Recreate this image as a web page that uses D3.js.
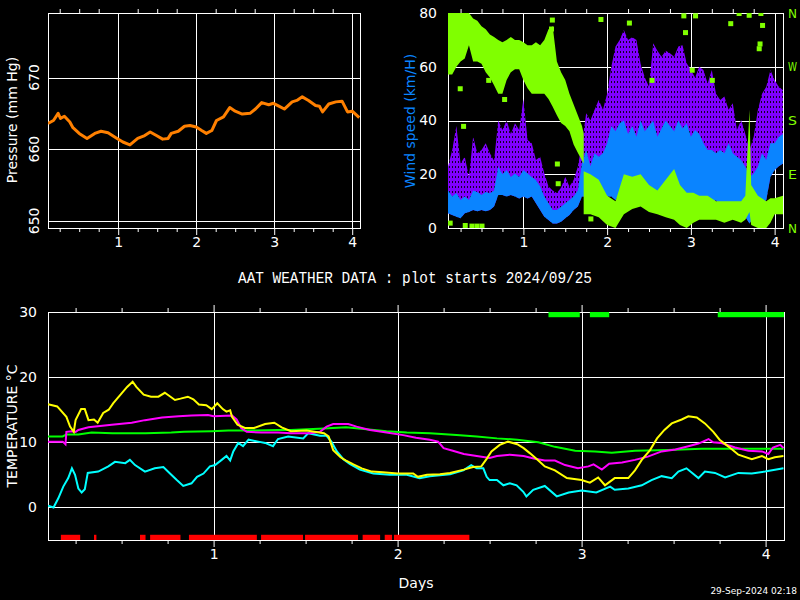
<!DOCTYPE html>
<html>
<head>
<meta charset="utf-8">
<script src="https://cdn.jsdelivr.net/npm/d3@7"></script>
<style>
body { margin: 0; background: #000; }
</style>
</head>
<body>
<svg id="canvas" width="800" height="600" font-family="DejaVu Sans, sans-serif"></svg>
<script>

const dayTicks = [1, 2, 3, 4]
const minorDays = [0.25, 0.5, 0.75, 1.25, 1.5, 1.75, 2.25, 2.5, 2.75, 3.25, 3.5, 3.75]
const pressTicks = [650, 660, 670]
const windTicks = [0, 20, 40, 60, 80]
const compassDeg = [0, 90, 180, 270, 360]
const compassLabels = ['N', 'E', 'S', 'W', 'N']
const tempTicks = [0, 10, 20, 30]

const pressDays = [0.10,0.17,0.23,0.26,0.31,0.38,0.42,0.50,0.60,0.70,0.78,0.87,0.97,1.06,1.15,1.25,1.34,1.41,1.49,1.57,1.64,1.68,1.77,1.85,1.92,2.00,2.07,2.13,2.20,2.26,2.35,2.43,2.50,2.59,2.69,2.76,2.84,2.93,2.99,3.06,3.13,3.23,3.29,3.36,3.44,3.53,3.58,3.62,3.70,3.79,3.87,3.94,4.00,4.09]
const pressure = [663.6,664.0,665.0,664.3,664.6,663.8,663.0,662.2,661.5,662.2,662.5,662.3,661.6,661.0,660.6,661.5,661.9,662.4,661.9,661.4,661.5,662.2,662.5,663.2,663.3,663.1,662.6,662.2,662.6,664.0,664.5,665.8,665.3,664.9,665.0,665.6,666.5,666.2,666.4,666.0,665.6,666.6,666.8,667.3,666.8,666.1,666.0,665.2,666.3,666.6,666.7,665.2,665.3,664.4]

const windDays = [0.10,0.15,0.20,0.25,0.30,0.35,0.40,0.45,0.50,0.55,0.60,0.65,0.70,0.75,0.80,0.85,0.90,0.95,1.00,1.05,1.10,1.15,1.20,1.25,1.30,1.35,1.40,1.45,1.50,1.55,1.60,1.65,1.70,1.75,1.80,1.85,1.90,1.95,2.00,2.05,2.10,2.15,2.20,2.25,2.30,2.35,2.40,2.45,2.50,2.55,2.60,2.65,2.70,2.75,2.80,2.85,2.90,2.95,3.00,3.05,3.10,3.15,3.20,3.25,3.30,3.35,3.40,3.45,3.50,3.55,3.60,3.65,3.70,3.75,3.80,3.85,3.90,3.95,4.00,4.05,4.10]
const gustSpeed = [22.8,29,38,24,26.5,19,34,27.8,29,31.5,27.8,25,40,36.5,40,35,39,36.5,48,32.7,31.5,25.3,26.5,20.3,15.4,14,13,15,19,15.4,17.9,22.8,31.5,42.7,40,44,47.6,44,50,60,67.5,70,73.7,70,71,70,61,56,52.6,68.7,66,63.7,66,65,63.7,67.5,68,61.3,58.8,56,60,58.8,53.8,58.8,50,47.6,48.9,44,46.4,36.5,40.2,35,29,34,44,50,52.6,58.8,55,52.6,51.3]
const windHigh = [14,11.7,13,10.4,11.7,10.4,14,13.4,12.3,13.4,12.9,14,22.8,20,21.6,19,20.3,19,21.6,20.3,19,17.9,15.4,11.7,9.2,6.7,6.7,7.9,9.2,10.4,11.7,14,24,29,23,27.8,26.5,27.8,31.5,38,36,39,40,35,38,34,40,36,38,40,34,37,40,38,36,40,37,39,34,36.5,35,31.5,29,29,27.8,29,27.8,31.5,27.8,26.5,25.3,22.8,19,20.3,22.8,27.8,25.3,31.5,31.5,34,35]
const windLow = [5.5,4.8,4.2,3.6,5.5,6,6.7,6.2,6.7,6.2,6.7,8,12.3,12.3,11.7,12.3,11.7,11,11.7,11,11.7,9.2,6.7,4.2,3,1.7,1.7,2.3,3.6,4.8,6.7,8,11.7,11.7,9.2,11.7,11.7,10.4,11.7,11.7,10.4,13,16.6,14,11.7,10.4,11.7,14,15.4,11.7,13,11.7,9.2,10.4,14,14,11.7,10.4,10.4,9.2,11.7,9.2,10.4,9.2,10.4,8,8,6.7,9.2,6.7,5.5,4.2,1.7,4.2,6.7,9.2,10.4,19,21.6,23,24]

const dirDaysA = [0.10,0.15,0.20,0.25,0.30,0.35,0.40,0.45,0.50,0.55,0.60,0.65,0.70,0.75,0.80,0.85,0.90,0.95,1.00,1.05,1.10,1.15,1.20,1.25,1.30,1.35,1.40,1.45,1.50,1.55,1.60,1.65,1.70,1.72]
const dirLowA = [257,257,270,279,284,306,279,279,275,261,252,239,225,225,248,261,266,266,248,234,225,225,225,225,216,203,189,176,171,162,140,126,113,108]
const dirHighA = [360,360,360,360,360,360,351,347,338,333,324,320,315,311,315,320,315,315,311,306,306,311,306,315,333,338,279,261,248,225,207,189,171,158]
const dirDaysB = [1.72,1.80,1.90,2.00,2.10,2.20,2.30,2.40,2.50,2.60,2.70,2.80,2.87,2.95,3.03,3.10,3.20,3.30,3.40,3.50,3.60,3.65,3.70,3.72,3.80,3.90,3.95,4.00,4.10]
const dirLowB = [23,23,18,5,0,23,32,36,27,23,18,14,5,0,9,14,14,14,9,14,9,14,27,5,0,0,9,23,23]
const dirHighB = [95,90,81,54,45,90,86,90,72,63,81,99,72,59,59,54,54,45,45,45,45,54,198,72,54,45,50,50,54]
const dirSpotDays = [0.12,0.24,0.28,0.30,0.38,0.44,0.50,0.58,0.77,1.33,1.34,1.39,1.40,1.41,1.80,1.92,2.26,2.53,2.69,2.91,2.93,3.01,3.05,3.25,3.47,3.57,3.69,3.81,3.82,3.83,3.85]
const dirSpots = [9,234,171,5,4,4,4,248,216,334,349,242,108,75,16,350,344,248,30,356,328,265,356,248,343,360,357,301,309,360,340]

const airDays = [0.10,0.15,0.20,0.22,0.24,0.25,0.28,0.30,0.32,0.35,0.37,0.40,0.43,0.455,0.50,0.53,0.56,0.58,0.62,0.66,0.70,0.735,0.76,0.79,0.82,0.86,0.89,0.92,0.96,0.99,1.02,1.05,1.07,1.09,1.10,1.13,1.17,1.22,1.28,1.33,1.37,1.42,1.505,1.60,1.625,1.65,1.69,1.72,1.76,1.805,1.86,1.92,2.00,2.085,2.11,2.16,2.23,2.285,2.36,2.41,2.455,2.485,2.51,2.555,2.60,2.65,2.685,2.72,2.765,2.80,2.855,2.92,3.00,3.045,3.09,3.127,3.18,3.254,3.29,3.327,3.372,3.41,3.45,3.49,3.544,3.58,3.626,3.67,3.716,3.75,3.80,3.852,3.925,3.98,4.015,4.05,4.097]
const airTemp = [15.85,15.5,13.9,12.4,11.6,13.4,15.1,15.1,13.4,13.5,13.0,14.5,15.0,16.0,17.5,18.5,19.3,18.5,17.3,17.0,17.0,17.6,17.1,16.5,16.7,17.0,16.6,15.8,15.7,15.1,16.0,15.1,14.7,14.9,13.9,12.7,12.2,12.2,12.8,13.0,12.3,11.7,11.8,11.4,10.9,8.8,7.7,7.2,6.6,6.0,5.5,5.4,5.2,5.2,4.7,5.0,5.1,5.3,5.8,6.2,6.3,7.5,8.6,9.6,10.1,9.7,9.1,8.3,7.2,6.3,5.7,4.5,4.2,3.8,4.6,3.4,4.5,4.5,5.7,7.3,8.8,10.6,11.9,12.9,13.5,14.0,13.8,12.9,11.6,10.4,9.3,8.1,7.4,7.9,7.4,7.7,7.9]

const domeDays = [0.10,0.18,0.195,0.20,0.23,0.25,0.265,0.32,0.446,0.555,0.627,0.72,0.81,0.88,0.97,1.00,1.10,1.125,1.15,1.18,1.26,1.35,1.42,1.525,1.578,1.614,1.65,1.732,1.777,1.85,1.94,2.03,2.10,2.175,2.22,2.25,2.30,2.36,2.43,2.50,2.54,2.61,2.685,2.74,2.80,2.855,2.91,2.98,3.037,3.065,3.11,3.15,3.22,3.29,3.36,3.435,3.51,3.58,3.635,3.69,3.715,3.76,3.834,3.906,3.98,4.015,4.04,4.08,4.097]
const domeTemp = [10.1,10.1,9.7,11.6,11.7,11.6,11.9,12.3,12.7,13.0,13.4,13.8,14.0,14.1,14.2,14.0,14.1,13.5,12.2,11.6,11.5,11.5,11.4,11.4,11.6,12.4,12.8,12.8,12.4,11.9,11.5,11.1,10.7,10.4,10.1,9.1,8.7,8.2,7.9,7.6,7.9,8.1,7.9,7.5,7.2,7.2,6.5,6.0,6.3,6.6,5.8,6.7,6.9,7.3,7.8,8.6,8.9,9.4,9.8,10.5,10.0,9.9,9.2,8.7,8.6,8.2,9.2,9.6,9.1]

const mirrorDays = [0.10,0.18,0.20,0.265,0.337,0.45,0.63,0.77,0.84,0.99,1.08,1.17,1.35,1.42,1.60,1.72,1.83,1.94,2.05,2.175,2.32,2.43,2.54,2.65,2.765,2.855,2.965,3.073,3.164,3.29,3.47,3.653,3.83,4.097]
const mirrorTemp = [10.9,10.9,11.2,11.2,11.5,11.4,11.4,11.5,11.6,11.7,11.8,11.8,11.9,11.9,12.1,12.3,12.0,11.7,11.5,11.4,11.1,10.9,10.6,10.4,10.0,9.3,8.7,8.6,8.4,8.7,8.8,9.0,9.0,9.0]

const dewDays = [0.10,0.13,0.156,0.183,0.21,0.23,0.247,0.265,0.283,0.30,0.316,0.373,0.428,0.464,0.52,0.545,0.573,0.627,0.68,0.727,0.763,0.80,0.835,0.88,0.91,0.945,0.98,1.008,1.044,1.07,1.09,1.107,1.134,1.16,1.19,1.243,1.28,1.323,1.35,1.405,1.487,1.515,1.578,1.614,1.64,1.67,1.705,1.74,1.795,1.868,1.958,2.05,2.12,2.175,2.285,2.357,2.40,2.43,2.466,2.484,2.50,2.54,2.575,2.61,2.647,2.683,2.70,2.737,2.80,2.865,2.93,3.00,3.08,3.155,3.18,3.254,3.327,3.38,3.435,3.49,3.526,3.57,3.635,3.67,3.725,3.78,3.852,3.925,3.997,4.097]
const dewPoint = [0.26,0.0,1.4,3.2,4.5,6.0,5.0,2.9,2.3,2.8,5.3,5.5,6.3,7.0,6.8,7.3,6.5,5.5,6.0,6.2,5.2,4.2,3.3,3.7,4.7,5.2,6.3,6.5,7.3,7.9,7.2,8.6,9.9,9.4,10.4,10.1,9.9,9.4,10.5,10.9,10.6,11.4,11.0,11.0,10.1,8.6,7.4,6.7,5.8,5.2,5.0,5.0,4.5,4.8,5.1,5.7,6.5,6.0,6.0,4.7,4.2,4.2,3.4,3.7,3.4,2.4,1.7,2.7,3.3,1.7,2.3,2.6,2.3,3.2,2.7,2.9,3.4,4.2,4.8,4.5,5.5,6.0,4.5,5.5,5.3,4.6,5.3,5.2,5.5,6.0]

const rainStart = [0.17,0.35,0.60,0.655,0.866,1.258,1.497,1.81,1.93,1.98]
const rainEnd = [0.275,0.363,0.63,0.82,1.235,1.486,1.785,1.905,1.97,2.39]
const domeOpenStart = [2.82,3.045,3.74]
const domeOpenEnd = [2.99,3.15,4.1]

let canvas = d3.select('#canvas')

canvas.append('rect')
      .attr('width', 800)
      .attr('height', 600)
      .attr('fill', '#000')

// speckled fill for the gust trace
let pattern = canvas.append('defs')
                    .append('pattern')
                    .attr('id', 'gustTex')
                    .attr('patternUnits', 'userSpaceOnUse')
                    .attr('width', 3)
                    .attr('height', 5)
pattern.append('rect').attr('width', 3).attr('height', 5).attr('fill', '#8000ff')
pattern.append('rect').attr('x', 2).attr('y', 1).attr('width', 1).attr('height', 2).attr('fill', '#140028')

const xP = d3.scaleLinear().domain([0.1, 4.1]).range([48, 360])
const yP = d3.scaleLinear().domain([649, 679]).range([228, 13])
const xW = d3.scaleLinear().domain([0.1, 4.1]).range([448, 783])
const yW = d3.scaleLinear().domain([0, 80]).range([228, 13])
const yDir = d3.scaleLinear().domain([0, 360]).range([228, 13])
const xT = d3.scaleLinear().domain([0.1, 4.1]).range([48, 784])
const yT = d3.scaleLinear().domain([-5, 30]).range([540, 312])

const styleAxis = (g, color) => {
    g.attr('color', color || '#fff')
     .attr('font-size', 14)
     .attr('font-family', 'DejaVu Sans, sans-serif')
    g.select('.domain').remove()
}

const drawPanel = (name, x, y, gridVals, majorTop) => {
    let g = canvas.append('g').attr('class', name)
    let left = x.range()[0], right = x.range()[1]
    let bottom = y.range()[0], top = y.range()[1]

    g.selectAll('line.vgrid')
     .data(dayTicks)
     .enter()
     .append('line')
     .attr('class', 'vgrid')
     .attr('x1', d => Math.round(x(d)) + 0.5)
     .attr('x2', d => Math.round(x(d)) + 0.5)
     .attr('y1', top)
     .attr('y2', bottom)
     .attr('stroke', '#fff')

    g.selectAll('line.hgrid')
     .data(gridVals)
     .enter()
     .append('line')
     .attr('class', 'hgrid')
     .attr('x1', left)
     .attr('x2', right)
     .attr('y1', d => Math.round(y(d)) + 0.5)
     .attr('y2', d => Math.round(y(d)) + 0.5)
     .attr('stroke', '#fff')

    g.append('g')
     .attr('transform', 'translate(0,' + bottom + ')')
     .call(d3.axisBottom(x).tickValues(minorDays).tickSize(4).tickSizeOuter(0).tickFormat(''))
     .call(a => styleAxis(a))
    g.append('g')
     .attr('transform', 'translate(0,' + top + ')')
     .call(d3.axisTop(x).tickValues(minorDays).tickSize(4).tickSizeOuter(0).tickFormat(''))
     .call(a => styleAxis(a))
    g.append('g')
     .attr('transform', 'translate(0,' + bottom + ')')
     .call(d3.axisBottom(x).tickValues(dayTicks).tickSize(7).tickPadding(2).tickSizeOuter(0).tickFormat(d3.format('d')))
     .call(a => styleAxis(a))
    if (majorTop) {
        g.append('g')
         .attr('transform', 'translate(0,' + top + ')')
         .call(d3.axisTop(x).tickValues(dayTicks).tickSize(7).tickSizeOuter(0).tickFormat(''))
         .call(a => styleAxis(a))
    }

    g.append('rect')
     .attr('x', left + 0.5)
     .attr('y', top + 0.5)
     .attr('width', right - left)
     .attr('height', bottom - top)
     .attr('fill', 'none')
     .attr('stroke', '#fff')

    canvas.append('clipPath')
          .attr('id', 'clip-' + name)
          .append('rect')
          .attr('x', left)
          .attr('y', top)
          .attr('width', right - left)
          .attr('height', bottom - top)

    return canvas.append('g').attr('clip-path', 'url(#clip-' + name + ')')
}

// pressure panel
const drawPressure = () => {
    let plot = drawPanel('press', xP, yP, pressTicks, false)
    let rows = pressDays.map((d, i) => ({ day: d, value: pressure[i] }))
    plot.append('path')
        .datum(rows)
        .attr('d', d3.line().x(d => xP(d.day)).y(d => yP(d.value)))
        .attr('fill', 'none')
        .attr('stroke', '#ff8000')
        .attr('stroke-width', 3)
        .attr('stroke-linejoin', 'round')

    canvas.selectAll('text.pticks')
          .data(pressTicks)
          .enter()
          .append('text')
          .attr('class', 'pticks')
          .attr('transform', d => 'translate(39,' + yP(d) + ') rotate(-90)')
          .attr('text-anchor', 'middle')
          .attr('font-size', 14)
          .attr('fill', '#fff')
          .text(d => d)

    canvas.append('text')
          .attr('transform', 'translate(17,120) rotate(-90)')
          .attr('text-anchor', 'middle')
          .attr('font-size', 14)
          .attr('fill', '#fff')
          .text('Pressure (mm Hg)')
}

// wind panel
const drawWind = () => {
    let plot = drawPanel('wind', xW, yW, [20, 40, 60], false)
    let rows = windDays.map((d, i) => ({ day: d, low: windLow[i], high: windHigh[i], gust: gustSpeed[i] }))

    plot.append('path')
        .datum(rows)
        .attr('d', d3.area().x(d => xW(d.day)).y0(d => yW(d.low)).y1(d => yW(d.gust)))
        .attr('fill', 'url(#gustTex)')
    plot.append('path')
        .datum(rows)
        .attr('d', d3.area().x(d => xW(d.day)).y0(d => yW(d.low)).y1(d => yW(d.high)))
        .attr('fill', '#0a84ff')

    let bandA = dirDaysA.map((d, i) => ({ day: d, low: dirLowA[i], high: dirHighA[i] }))
    let bandB = dirDaysB.map((d, i) => ({ day: d, low: dirLowB[i], high: dirHighB[i] }))
    let band = d3.area().x(d => xW(d.day)).y0(d => yDir(d.low)).y1(d => yDir(d.high))
    plot.selectAll('path.dir')
        .data([bandA, bandB])
        .enter()
        .append('path')
        .attr('class', 'dir')
        .attr('d', band)
        .attr('fill', '#80ff00')
    plot.selectAll('rect.spot')
        .data(dirSpotDays)
        .enter()
        .append('rect')
        .attr('class', 'spot')
        .attr('x', d => xW(d) - 2)
        .attr('y', (d, i) => yDir(dirSpots[i]) - 2)
        .attr('width', 5)
        .attr('height', 5)
        .attr('fill', '#80ff00')

    canvas.append('g')
          .attr('transform', 'translate(448,0)')
          .call(d3.axisLeft(yW).tickValues(windTicks).tickSize(0).tickPadding(11))
          .call(a => styleAxis(a))
    canvas.append('g')
          .attr('transform', 'translate(783,0)')
          .call(d3.axisRight(yDir).tickValues(compassDeg).tickSize(0).tickPadding(5)
                .tickFormat((d, i) => compassLabels[i]))
          .call(a => styleAxis(a, '#80ff00'))
          .call(a => a.selectAll('text')
                      .attr('font-size', 13)
                      .attr('textLength', 9)
                      .attr('lengthAdjust', 'spacingAndGlyphs'))

    canvas.append('text')
          .attr('transform', 'translate(415,121) rotate(-90)')
          .attr('text-anchor', 'middle')
          .attr('font-size', 14)
          .attr('fill', '#0a84ff')
          .text('Wind speed (km/H)')
}

// temperature panel
const drawTemps = () => {
    let plot = drawPanel('temp', xT, yT, [0, 10, 20], true)
    let line = d3.line().x(d => xT(d.day)).y(d => yT(d.value))
    let series = [
        { days: mirrorDays, values: mirrorTemp, color: '#00ff00' },
        { days: dewDays, values: dewPoint, color: '#00ffff' },
        { days: domeDays, values: domeTemp, color: '#ff00ff' },
        { days: airDays, values: airTemp, color: '#ffff00' }
    ]
    series.forEach(s => {
        plot.append('path')
            .datum(s.days.map((d, i) => ({ day: d, value: s.values[i] })))
            .attr('d', line)
            .attr('fill', 'none')
            .attr('stroke', s.color)
            .attr('stroke-width', 2)
    })

    plot.selectAll('rect.rain')
        .data(rainStart)
        .enter()
        .append('rect')
        .attr('class', 'rain')
        .attr('x', d => xT(d))
        .attr('width', (d, i) => xT(rainEnd[i]) - xT(d))
        .attr('y', yT(-4.2))
        .attr('height', yT(-5) - yT(-4.2))
        .attr('fill', '#ff0000')

    plot.selectAll('rect.open')
        .data(domeOpenStart)
        .enter()
        .append('rect')
        .attr('class', 'open')
        .attr('x', d => xT(d))
        .attr('width', (d, i) => xT(domeOpenEnd[i]) - xT(d))
        .attr('y', yT(30))
        .attr('height', yT(29.2) - yT(30))
        .attr('fill', '#00ff00')

    canvas.append('g')
          .attr('transform', 'translate(48,0)')
          .call(d3.axisLeft(yT).tickValues(tempTicks).tickSize(0).tickPadding(11))
          .call(a => styleAxis(a))

    canvas.append('text')
          .attr('transform', 'translate(17,426) rotate(-90)')
          .attr('text-anchor', 'middle')
          .attr('font-size', 14)
          .attr('fill', '#fff')
          .text('TEMPERATURE °C')

    canvas.append('text')
          .attr('x', 416)
          .attr('y', 588)
          .attr('text-anchor', 'middle')
          .attr('font-size', 14)
          .attr('fill', '#fff')
          .text('Days')
}

drawPressure()
drawWind()
drawTemps()

canvas.append('text')
      .attr('x', 238)
      .attr('y', 283)
      .attr('textLength', 354)
      .attr('lengthAdjust', 'spacingAndGlyphs')
      .attr('font-family', 'Liberation Mono, monospace')
      .attr('font-size', 17)
      .attr('fill', '#fff')
      .text('AAT WEATHER DATA : plot starts 2024/09/25')

canvas.append('text')
      .attr('x', 797)
      .attr('y', 594)
      .attr('text-anchor', 'end')
      .attr('font-size', 9)
      .attr('fill', '#fff')
      .text('29-Sep-2024 02:18')

</script>
</body>
</html>
